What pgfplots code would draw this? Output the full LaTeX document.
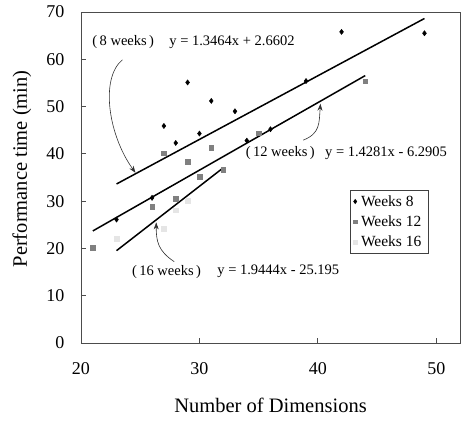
\documentclass[border=0pt]{standalone}
\usepackage{pgfplots}
\pgfplotsset{compat=1.18}
\usepackage{fontspec}
\setmainfont{Liberation Serif}
\usetikzlibrary{arrows.meta}
\begin{document}
\begin{tikzpicture}[x=1pt,y=1pt]
\useasboundingbox (-81,-80) rectangle (380,343);
\begin{axis}[
  at={(0,0)}, anchor=south west,
  width=379pt, height=331pt, scale only axis,
  xmin=20, xmax=52, ymin=0, ymax=70,
  xtick={20,30,40,50}, ytick={0,10,...,70},
  tick align=inside, xtick pos=bottom, ytick pos=left,
  major tick length=5pt,
  axis line style={draw=black!70, line width=0.8pt},
  every tick/.style={black!70, line width=0.8pt},
  /pgf/number format/assume math mode=true,
  tick label style={font=\fontsize{18}{20}\selectfont},
  xticklabel style={yshift=-16pt},
  yticklabel style={xshift=-13pt},
  xlabel={Number of Dimensions},
  ylabel={Performance time (min)},
  label style={font=\fontsize{20.5}{22}\selectfont},
  xlabel style={at={(axis description cs:0.5,-0.187)}, anchor=center},
  ylabel style={at={(axis description cs:-0.156,0.526)}, anchor=center},
  legend style={at={(0.71,0.462)}, anchor=north west, draw=black!75, line width=0.6pt,
    font=\fontsize{15.5}{17}\selectfont, row sep=4pt, inner sep=3pt,
    nodes={inner xsep=4pt}},
  legend image post style={scale=0.8},
  legend cell align=left,
  clip=false,
]
\addplot[only marks, mark=diamond*, mark size=2.6pt, color=black] coordinates {
(23,26.1) (26,30.7) (27,45.9) (28,42.3) (29,55.1) (30,44.3) (31,51.2) (33,49.0)
(34,42.8) (36,45.2) (39,55.4) (42,65.8) (49,65.5)};
\addlegendentry{Weeks 8}
\addplot[only marks, mark=square*, mark size=2.3pt, color=black!50, mark options={draw=black!50}] coordinates {
(21,20.1) (26,28.8) (27,40.1) (28,30.5) (29,38.3) (30,35.2) (31,41.3) (32,36.6) (35,44.4) (44,55.4)};
\addlegendentry{Weeks 12}
\addplot[only marks, mark=square*, mark size=2.3pt, color=black!10, mark options={draw=black!10}] coordinates {
(23,22.1) (27,24.2) (28,28.1) (29,30.1)};
\addlegendentry{Weeks 16}
\addplot[black, line width=1.5pt, forget plot] coordinates {(23,33.63) (49,68.63)};
\addplot[black, line width=1.5pt, forget plot] coordinates {(21,23.70) (44,56.55)};
\addplot[black, line width=1.5pt, forget plot] coordinates {(23,19.53) (32,37.03)};
\begin{scope}[font=\fontsize{14.5}{16}\selectfont]
\node[anchor=west, inner sep=0pt] at (axis cs:20.95,63.6) {(\,8 weeks\,)};
\node[anchor=west, inner sep=0pt] at (axis cs:27.45,63.6) {y = 1.3464x + 2.6602};
\node[anchor=west, inner sep=0pt] at (axis cs:33.9,40.2) {(\,12 weeks\,)};
\node[anchor=west, inner sep=0pt] at (axis cs:40.6,40.2) {y = 1.4281x - 6.2905};
\node[anchor=west, inner sep=0pt] at (axis cs:24.3,15.1) {(\,16 weeks\,)};
\node[anchor=west, inner sep=0pt] at (axis cs:31.5,15.1) {y = 1.9444x - 25.195};
\end{scope}
\draw[black!80, line width=0.6pt, -{Stealth[length=7pt,width=5pt]}] (axis cs:23.5,59.9) .. controls (axis cs:21.6,56) and (axis cs:22.3,44) .. (axis cs:24.6,36.0);
\draw[black!80, line width=0.6pt, -{Stealth[length=7pt,width=5pt]}] (axis cs:38.76,42.9) .. controls (axis cs:40.2,44.3) and (axis cs:40.1,46.5) .. (axis cs:40.22,50.6);
\draw[black!80, line width=0.6pt, -{Stealth[length=7pt,width=5pt]}] (axis cs:27.87,17.2) .. controls (axis cs:26.5,19.5) and (axis cs:26.35,21.5) .. (axis cs:26.35,25.5);
\end{axis}
\end{tikzpicture}
\end{document}
